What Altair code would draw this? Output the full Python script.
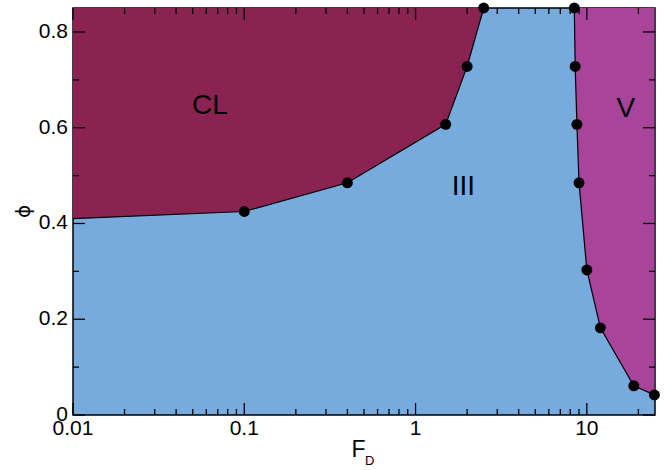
import altair as alt
import pandas as pd

# ---- data ----
cl_F = [0.01, 0.1, 0.4, 1.5, 2.0, 2.5]
cl_phi = [0.41, 0.425, 0.485, 0.607, 0.728, 0.85]
cl_marked = [False, True, True, True, True, True]

v_F = [8.45, 8.55, 8.75, 9.0, 10.0, 12.0, 18.8, 24.8]
v_phi = [0.85, 0.728, 0.607, 0.485, 0.303, 0.182, 0.061, 0.042]

region_names = ["CL", "III", "V"]
region_F = [0.063, 1.9, 16.9]
region_phi = [0.646, 0.476, 0.64]

x_major = [0.01, 0.1, 1, 10]
x_labels = ["0.01", "0.1", "1", "10"]
x_minor = [0.02, 0.03, 0.04, 0.05, 0.06, 0.07, 0.08, 0.09,
           0.2, 0.3, 0.4, 0.5, 0.6, 0.7, 0.8, 0.9,
           2, 3, 4, 5, 6, 7, 8, 9, 20]
y_major = [0, 0.2, 0.4, 0.6, 0.8]
y_labels = ["0", "0.2", "0.4", "0.6", "0.8"]
y_minor = [0.1, 0.3, 0.5, 0.7]

# ---- styling ----
W, H = 582, 407
FONT = "Liberation Sans"
CL_COLOR = "#8A2252"
III_COLOR = "#77AADD"
V_COLOR = "#A8449A"
MAJ, MIN = 12, 6
X_MIN, X_MAX = 0.01, 25
PHI_MIN, PHI_MAX = 0.0, 0.85

cl_df = pd.DataFrame({"F": cl_F, "phi": cl_phi, "marked": cl_marked})
cl_df["top"] = PHI_MAX
v_df = pd.DataFrame({"F": v_F, "phi": v_phi})
v_df["top"] = PHI_MAX
pts_df = pd.concat([cl_df[cl_df["marked"]][["F", "phi"]], v_df[["F", "phi"]]],
                   ignore_index=True)
reg_df = pd.DataFrame({"F": region_F, "phi": region_phi, "name": region_names})

xscale = alt.Scale(type="log", domain=[X_MIN, X_MAX], nice=False)
yscale = alt.Scale(domain=[PHI_MIN, PHI_MAX], nice=False, zero=False)


def X(field):
    return alt.X(field, scale=xscale, axis=None)


def Y(field):
    return alt.Y(field, scale=yscale, axis=None)


cl_area = alt.Chart(cl_df).mark_area(color=CL_COLOR, opacity=1).encode(
    x=X("F:Q"), y=Y("phi:Q"), y2="top:Q",
)
v_area = alt.Chart(v_df).mark_area(color=V_COLOR, opacity=1).encode(
    x=X("F:Q"), y=Y("phi:Q"), y2="top:Q",
)
cl_line = alt.Chart(cl_df).mark_line(color="black", strokeWidth=1.2).encode(
    x=X("F:Q"), y=Y("phi:Q"),
)
v_line = alt.Chart(v_df).mark_line(color="black", strokeWidth=1.2).encode(
    x=X("F:Q"), y=Y("phi:Q"),
)
points = alt.Chart(pts_df).mark_circle(color="black", opacity=1, size=120, clip=False).encode(
    x=X("F:Q"), y=Y("phi:Q"),
)
regions = alt.Chart(reg_df).mark_text(fontSize=28, font=FONT, color="black",
                                      align="center", baseline="middle").encode(
    x=X("F:Q"), y=Y("phi:Q"), text="name:N",
)

# inward ticks drawn as stroked line symbols (size = (2 * half-length)^2)
VSHAPE = "M0,-1L0,1"
HSHAPE = "M-1,0L1,0"


def tick_mark(shape, length):
    return dict(shape=shape, size=length * length, filled=False, stroke="black",
                strokeWidth=1.3, opacity=1, clip=False)


def xticks(vals, length):
    df = pd.DataFrame({"v": vals})
    bottom = alt.Chart(df).mark_point(**tick_mark(VSHAPE, length)).encode(
        x=X("v:Q"), y=alt.value(H - length / 2))
    top = alt.Chart(df).mark_point(**tick_mark(VSHAPE, length)).encode(
        x=X("v:Q"), y=alt.value(length / 2))
    return [bottom, top]


def yticks(vals, length):
    df = pd.DataFrame({"v": vals})
    left = alt.Chart(df).mark_point(**tick_mark(HSHAPE, length)).encode(
        y=Y("v:Q"), x=alt.value(length / 2))
    right = alt.Chart(df).mark_point(**tick_mark(HSHAPE, length)).encode(
        y=Y("v:Q"), x=alt.value(W - length / 2))
    return [left, right]


tick_layers = (xticks(x_major, MAJ) + xticks(x_minor, MIN)
               + yticks(y_major, MAJ) + yticks(y_minor, MIN))

# tick labels as text
xlab_df = pd.DataFrame({"v": x_major, "lab": x_labels})
ylab_df = pd.DataFrame({"v": y_major, "lab": y_labels})
x_tick_labels = alt.Chart(xlab_df).mark_text(fontSize=21, font=FONT, color="black",
                                             align="center", baseline="top").encode(
    x=X("v:Q"), y=alt.value(H + 3), text="lab:N")
y_tick_labels = alt.Chart(ylab_df).mark_text(fontSize=21, font=FONT, color="black",
                                             align="right", baseline="middle").encode(
    y=Y("v:Q"), x=alt.value(-5), text="lab:N")

# axis titles
ytitle_df = pd.DataFrame({"t": ["ϕ"]})
y_title = alt.Chart(ytitle_df).mark_text(fontSize=20, font="DejaVu Sans", color="black",
                                         align="center", baseline="middle", angle=270).encode(
    x=alt.value(-49.5), y=alt.value(203.5), text="t:N")
title_df = pd.DataFrame({"t": ["F"]})
sub_df = pd.DataFrame({"t": ["D"]})
x_title = alt.Chart(title_df).mark_text(fontSize=23, font=FONT, color="black",
                                        align="left", baseline="alphabetic").encode(
    x=alt.value(278.5), y=alt.value(449.3), text="t:N")
x_sub = alt.Chart(sub_df).mark_text(fontSize=13, font=FONT, color="black",
                                    align="left", baseline="alphabetic").encode(
    x=alt.value(292), y=alt.value(457), text="t:N")

chart = alt.layer(
    cl_area, v_area, *tick_layers, cl_line, v_line, points, regions,
    x_tick_labels, y_tick_labels, y_title, x_title, x_sub
).properties(
    width=W, height=H,
    padding={"left": 73, "top": 8, "right": 10, "bottom": 55},
    autosize=alt.AutoSizeParams(type="none"),
    background="white",
).configure_view(
    fill=III_COLOR, stroke="black", strokeWidth=1.5
)

chart.save("out.html", embed_options={"renderer": "svg", "actions": False})
